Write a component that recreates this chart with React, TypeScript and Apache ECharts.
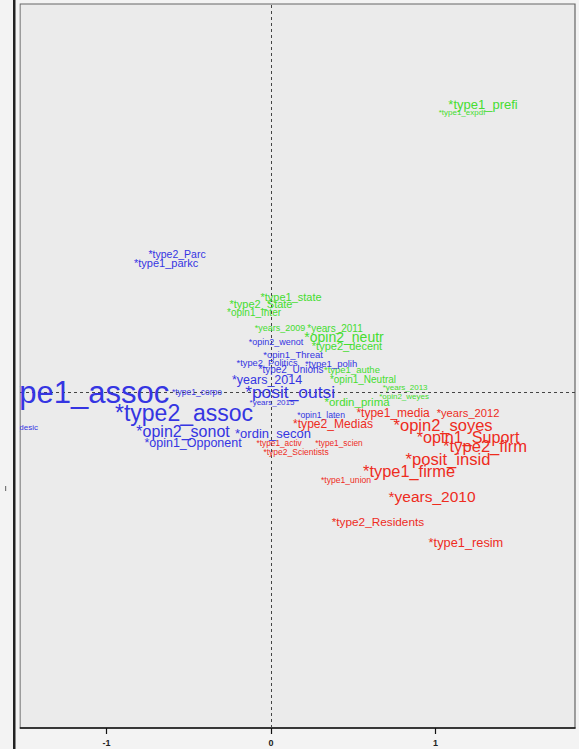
import React, { useEffect, useRef } from "react";
import * as echarts from "echarts";

// ---- data (CA coordinates of the modalities) ----
const blueLabels = [
  "*type1_assoc", "*type1_desic", "*type2_Parc", "*type1_parkc", "*opin2_wenot",
  "*opin1_Threat", "*type2_Politics", "*type1_polih", "*type2_Unions", "*years_2014",
  "*posit_outsi", "*type1_corpo", "*years_2015", "*type2_assoc", "*opin2_sonot",
  "*ordin_secon", "*opin1_Opponent", "*opin1_laten",
];
const blueX = [-1.185, -1.556, -0.571, -0.638, 0.03, 0.134, -0.024, 0.365, 0.122, -0.024, 0.116, -0.45, 0.006, -0.529, -0.535, 0.012, -0.474, 0.304];
const blueY = [-0.006, -0.213, 0.839, 0.784, 0.304, 0.225, 0.176, 0.176, 0.134, 0.073, 0.0, 0.0, -0.061, -0.128, -0.243, -0.255, -0.31, -0.14];
const blueContrib = [31, 8, 10.5, 11, 9, 9.5, 9.3, 9.5, 10, 12.5, 17.4, 8.5, 8, 23, 16, 13, 12.5, 8.6];

const greenLabels = [
  "*type1_prefi", "*type1_expdf", "*type1_state", "*type2_State", "*opin1_Inter",
  "*years_2009", "*years_2011", "*opin2_neutr", "*type2_decent", "*type1_authe",
  "*opin1_Neutral", "*years_2013", "*opin2_weyes", "*ordin_prima",
];
const greenX = [1.289, 1.161, 0.122, -0.061, -0.103, 0.055, 0.389, 0.444, 0.462, 0.492, 0.559, 0.815, 0.809, 0.523];
const greenY = [1.745, 1.702, 0.578, 0.535, 0.486, 0.389, 0.383, 0.334, 0.28, 0.134, 0.073, 0.03, -0.03, -0.061];
const greenContrib = [13, 8, 11, 11, 10, 9, 10, 14, 11, 9.5, 10, 8, 8, 11.5];

const redLabels = [
  "*type1_media", "*years_2012", "*type2_Medias", "*opin2_soyes", "*opin1_Suport",
  "*type2_firm", "*posit_insid", "*type1_firme", "*type1_union", "*years_2010",
  "*type2_Residents", "*type1_resim", "*type1_activ", "*type1_scien", "*type2_Scientists",
];
const redX = [0.742, 1.198, 0.377, 1.046, 1.198, 1.301, 1.076, 0.839, 0.456, 0.979, 0.65, 1.185, 0.049, 0.413, 0.152];
const redY = [-0.128, -0.128, -0.195, -0.201, -0.274, -0.334, -0.413, -0.48, -0.535, -0.638, -0.79, -0.918, -0.31, -0.31, -0.365];
const redContrib = [12, 11.2, 12.1, 16.5, 16.2, 16.6, 16.6, 16.4, 8.6, 15.5, 11.8, 12.8, 8.3, 8.3, 8.5];

const xTicks = [-1, 0, 1];

const FONT = "'Liberation Sans', Arial, Helvetica, sans-serif";

function makeSeries(
  name: string,
  labels: string[],
  xs: number[],
  ys: number[],
  contrib: number[],
  color: string,
  extra: any = {}
) {
  return {
    name,
    type: "scatter",
    symbolSize: 0,
    clip: false,
    itemStyle: { color: "rgba(0,0,0,0)" },
    silent: true,
    z: 3,
    data: labels.map((l, i) => ({
      value: [xs[i], ys[i]],
      name: l,
      label: { fontSize: contrib[i] },
    })),
    label: {
      show: true,
      position: "inside",
      align: "center",
      verticalAlign: "middle",
      formatter: (p: any) => p.name,
      color,
      opacity: 1,
      fontFamily: FONT,
    },
    labelLayout: { hideOverlap: false },
    ...extra,
  };
}

export default function App() {
  const ref = useRef<HTMLDivElement>(null);
  useEffect(() => {
    if (!ref.current) return;
    const chart = echarts.init(ref.current, undefined, { renderer: "svg" });
    chart.setOption({
      animation: false,
      backgroundColor: "#f3f3f3",
      grid: {
        left: 20,
        right: 4,
        top: 4,
        bottom: 21,
        show: true,
        backgroundColor: "#ebebeb",
        borderColor: "#666",
        borderWidth: 1.2,
      },
      xAxis: {
        type: "value",
        min: -1.526,
        max: 1.848,
        splitLine: { show: false },
        axisLine: { show: true, onZero: false, lineStyle: { color: "#111", width: 1.5 } },
        axisTick: { show: true, customValues: xTicks, length: 6, lineStyle: { color: "#111", width: 1.2 } },
        axisLabel: {
          customValues: xTicks,
          margin: 10,
          fontSize: 9,
          fontWeight: "bold",
          color: "#222",
          fontFamily: FONT,
        },
      },
      yAxis: {
        type: "value",
        min: -2.043,
        max: 2.359,
        show: false,
        splitLine: { show: false },
      },
      series: [
        makeSeries("green", greenLabels, greenX, greenY, greenContrib, "#45dd30", {
          markLine: {
            silent: true,
            symbol: "none",
            label: { show: false },
            lineStyle: { type: [3, 3], color: "#444", width: 1 },
            data: [{ xAxis: 0 }, { yAxis: 0 }],
            z: 1,
          },
        }),
        makeSeries("blue", blueLabels, blueX, blueY, blueContrib, "#3535e2"),
        makeSeries("red", redLabels, redX, redY, redContrib, "#ee2c1e"),
      ],
      graphic: [
        {
          type: "rect",
          left: 0,
          top: 0,
          shape: { x: 0, y: 0, width: 19.5, height: 749 },
          style: { fill: "#f3f3f3" },
          z: 100,
        },
        {
          type: "rect",
          left: 13,
          top: 0,
          shape: { x: 0, y: 0, width: 2.5, height: 749 },
          style: { fill: "#222" },
          z: 101,
        },
        {
          type: "rect",
          left: 5,
          top: 486,
          shape: { x: 0, y: 0, width: 1.2, height: 5 },
          style: { fill: "#777" },
          z: 101,
        },
      ],
    });
    return () => chart.dispose();
  }, []);
  return (
    <div
      ref={ref}
      style={{ position: "fixed", left: 0, top: 0, width: 579, height: 749 }}
    />
  );
}
